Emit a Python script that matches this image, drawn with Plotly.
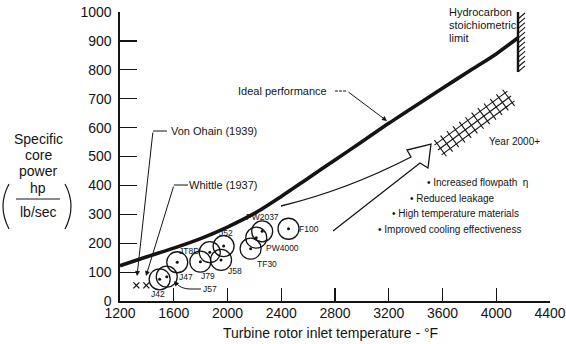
import plotly.graph_objects as go

# ---------------- data ----------------
ideal_temp = [1200, 1400, 1600, 1800, 2000, 2200, 2400, 2600, 2800, 3000, 3200, 3400, 3600, 3800, 4000, 4160]
ideal_power = [122, 153, 183, 216, 256, 303, 362, 425, 488, 551, 615, 676, 736, 796, 855, 910]

engine_names = ["J42", "J57", "J47", "J79", "JT8D", "J52", "J58", "TF30", "PW4000", "PW2037", "F100"]
engine_temp = [1495, 1548, 1626, 1798, 1868, 1971, 1952, 2172, 2214, 2258, 2454]
engine_power = [75, 84, 134, 136, 169, 190, 142, 181, 219, 241, 250]

pioneer_names = ["Von Ohain (1939)", "Whittle (1937)"]
pioneer_temp = [1322, 1396]
pioneer_power = [54, 54]

x_ticks = [1200, 1600, 2000, 2400, 2800, 3200, 3600, 4000, 4400]
y_ticks = [0, 100, 200, 300, 400, 500, 600, 700, 800, 900, 1000]

improvements = ["• Increased flowpath  η", "• Reduced leakage", "• High temperature materials",
                "• Improved cooling effectiveness"]

# ---------------- layout geometry helpers (decorations only) ----------------
W, H = 566, 344
ML, MR, MT, MB = 120, 16, 12, 43
PW, PH = W - ML - MR, H - MT - MB
X0, X1, Y0, Y1 = 1200, 4400, 0, 1000


def dx(px):
    return X0 + (px - ML) / PW * (X1 - X0)


def dy(py):
    return Y0 + (H - MB - py) / PH * (Y1 - Y0)


def paper_x(px):
    return (px - ML) / PW


def paper_y(py):
    return (H - MB - py) / PH


INK = "#141414"
FONT = "Liberation Sans, Arial, sans-serif"

fig = go.Figure()

# ideal performance curve
fig.add_trace(go.Scatter(x=ideal_temp, y=ideal_power, mode="lines",
                         line=dict(color=INK, width=3.6, shape="spline", smoothing=0.8),
                         hoverinfo="skip", showlegend=False))

# engine circles and centre dots
fig.add_trace(go.Scatter(x=engine_temp, y=engine_power, mode="markers",
                         marker=dict(symbol="circle-open", size=21, color=INK, line=dict(width=1.3, color=INK)),
                         text=engine_names, showlegend=False))
fig.add_trace(go.Scatter(x=engine_temp, y=engine_power, mode="markers",
                         marker=dict(symbol="circle", size=3, color=INK), showlegend=False, hoverinfo="skip"))

# pioneer x markers
fig.add_trace(go.Scatter(x=pioneer_temp, y=pioneer_power, mode="markers",
                         marker=dict(symbol="x-thin", size=6, line=dict(width=1.3, color=INK)),
                         text=pioneer_names, showlegend=False))

annotations = []
shapes = []

# engine labels (pixel offsets from circle centre)
label_offsets = {
    "J42": (-2, 15), "J47": (9, 15), "J79": (8, 14), "JT8D": (-21, -1), "J52": (2, -13),
    "J58": (14, 11), "TF30": (16, 15), "PW4000": (26, 10), "PW2037": (0, -14), "F100": (20, 0),
}
for name, t, p in zip(engine_names, engine_temp, engine_power):
    if name in label_offsets:
        ox, oy = label_offsets[name]
        annotations.append(dict(x=t, y=p, xref="x", yref="y", text=name, showarrow=False,
                                xshift=ox, yshift=-oy, font=dict(size=8.5, color=INK, family=FONT)))

# J57 label with curved leader
annotations.append(dict(x=dx(210), y=dy(289), xref="x", yref="y", text="J57", showarrow=False,
                        font=dict(size=8.5, color=INK, family=FONT)))
shapes.append(dict(type="path", xref="x", yref="y",
                   path=f"M {dx(201)} {dy(289)} L {dx(190)} {dy(289)} Q {dx(181)} {dy(289)} {dx(176)} {dy(283)}",
                   line=dict(color=INK, width=1)))
annotations.append(dict(x=dx(174), y=dy(281), ax=dx(177), ay=dy(284.5), xref="x", yref="y", axref="x", ayref="y",
                        text="", showarrow=True, arrowhead=2, arrowsize=1, arrowwidth=1, arrowcolor=INK, standoff=0))

# pioneer labels with leaders
pioneer_text_px = [(214, 131), (223, 185)]
pioneer_corner_px = [(153, 131), (174, 185)]
pioneer_tip_px = [(137, 276), (146, 276)]
for name, (tx, ty), (cx, cy), (ex, ey) in zip(pioneer_names, pioneer_text_px, pioneer_corner_px, pioneer_tip_px):
    annotations.append(dict(x=dx(tx), y=dy(ty), xref="x", yref="y", text=name, showarrow=False,
                            font=dict(size=11, color=INK, family=FONT)))
    shapes.append(dict(type="line", xref="x", yref="y", x0=dx(cx), y0=dy(cy), x1=dx(cx + 14), y1=dy(cy),
                       line=dict(color=INK, width=1)))
    annotations.append(dict(x=dx(ex), y=dy(ey), ax=dx(cx), ay=dy(cy), xref="x", yref="y", axref="x", ayref="y",
                            text="", showarrow=True, arrowhead=2, arrowsize=1, arrowwidth=1, arrowcolor=INK,
                            standoff=0))

# Ideal performance label
annotations.append(dict(x=dx(282), y=dy(91), xref="x", yref="y", text="Ideal performance", showarrow=False,
                        font=dict(size=11, color=INK, family=FONT)))
shapes.append(dict(type="line", xref="x", yref="y", x0=dx(335), y0=dy(91), x1=dx(347), y1=dy(91),
                   line=dict(color=INK, width=1, dash="3px,1px")))
annotations.append(dict(x=dx(387), y=dy(121), ax=dx(347), ay=dy(91), xref="x", yref="y", axref="x", ayref="y",
                        text="", showarrow=True, arrowhead=2, arrowsize=1, arrowwidth=1, arrowcolor=INK, standoff=0))

# hollow arrow toward year 2000+
arrow_path = (f"M {dx(281)} {dy(206)} Q {dx(347)} {dy(190)} {dx(411)} {dy(157)} "
              f"L {dx(407)} {dy(150)} L {dx(431)} {dy(144)} L {dx(428)} {dy(168)} "
              f"L {dx(420)} {dy(163)} L {dx(333)} {dy(231)}")
shapes.append(dict(type="path", xref="x", yref="y", path=arrow_path, line=dict(color=INK, width=1.3)))

# crosshatched "Year 2000+" band
ax_, ay_ = 438.0, 150.0
bx_, by_ = 511.0, 96.0
L = ((bx_ - ax_) ** 2 + (by_ - ay_) ** 2) ** 0.5
ux, uy = (bx_ - ax_) / L, (by_ - ay_) / L
nx, ny = -uy, ux
for off in (-6, 0, 6):
    shapes.append(dict(type="line", xref="x", yref="y",
                       x0=dx(ax_ + nx * off), y0=dy(ay_ + ny * off),
                       x1=dx(bx_ + nx * off), y1=dy(by_ + ny * off), line=dict(color=INK, width=1.1)))
n_cross = 12
for i in range(n_cross):
    t = 3 + i * (L - 6) / (n_cross - 1)
    cx, cy = ax_ + ux * t, ay_ + uy * t
    shapes.append(dict(type="line", xref="x", yref="y",
                       x0=dx(cx - nx * 10), y0=dy(cy - ny * 10),
                       x1=dx(cx + nx * 10), y1=dy(cy + ny * 10), line=dict(color=INK, width=1.1)))
annotations.append(dict(x=dx(514), y=dy(141), xref="x", yref="y", text="Year 2000+", showarrow=False,
                        font=dict(size=10, color=INK, family=FONT)))

# improvement bullets
bullet_px = [(425, 182), (408, 198), (390, 213), (376, 229)]
for txt, (bx, by) in zip(improvements, bullet_px):
    annotations.append(dict(x=dx(bx), y=dy(by), xref="x", yref="y", text=txt, showarrow=False,
                            xanchor="left", font=dict(size=10, color=INK, family=FONT)))

# hydrocarbon stoichiometric limit wall
wall_x = 518
shapes.append(dict(type="line", xref="x", yref="y", x0=dx(wall_x), y0=dy(12), x1=dx(wall_x), y1=dy(72),
                   line=dict(color=INK, width=2.4)))
for k in range(12):
    yy = 19 + k * 4.8
    shapes.append(dict(type="line", xref="x", yref="y", x0=dx(wall_x), y0=dy(yy), x1=dx(wall_x + 7),
                       y1=dy(yy - 6), line=dict(color=INK, width=1.1)))
for txt, yy in zip(["Hydrocarbon", "stoichiometric", "limit"], [12, 25, 38]):
    annotations.append(dict(x=paper_x(447), y=paper_y(yy), xref="paper", yref="paper", text=txt,
                            showarrow=False, xanchor="left", yanchor="middle",
                            font=dict(size=11, color=INK, family=FONT)))

# y-axis title with parenthesised fraction
for txt, yy in zip(["Specific", "core", "power", "hp", "lb/sec"], [139, 155, 171, 188, 212]):
    annotations.append(dict(x=paper_x(38), y=paper_y(yy), xref="paper", yref="paper", text=txt, showarrow=False,
                            xanchor="center", yanchor="middle",
                            font=dict(size=14, color=INK, family=FONT)))
shapes.append(dict(type="line", xref="paper", yref="paper", x0=paper_x(16), y0=paper_y(199), x1=paper_x(60),
                   y1=paper_y(199), line=dict(color=INK, width=1)))
shapes.append(dict(type="path", xref="paper", yref="paper",
                   path=f"M {paper_x(9)} {paper_y(184)} Q {paper_x(-3)} {paper_y(206)} {paper_x(9)} {paper_y(229)}",
                   line=dict(color=INK, width=1.2)))
shapes.append(dict(type="path", xref="paper", yref="paper",
                   path=f"M {paper_x(65)} {paper_y(184)} Q {paper_x(77)} {paper_y(206)} {paper_x(65)} {paper_y(229)}",
                   line=dict(color=INK, width=1.2)))

# x-axis title
annotations.append(dict(x=paper_x(330), y=paper_y(333), xref="paper", yref="paper",
                        text="Turbine rotor inlet temperature - °F", showarrow=False,
                        xanchor="center", yanchor="middle",
                        font=dict(size=14, color=INK, family=FONT)))

fig.update_layout(
    width=W, height=H,
    margin=dict(l=ML, r=MR, t=MT, b=MB, autoexpand=False),
    paper_bgcolor="white", plot_bgcolor="white",
    font=dict(family=FONT, color=INK, size=14),
    showlegend=False,
    annotations=annotations,
    shapes=shapes,
    xaxis=dict(range=[X0, X1], tickvals=x_ticks, ticktext=[str(v) for v in x_ticks],
               ticks="inside", ticklen=13, tickwidth=1.2, tickcolor=INK,
               showline=True, linecolor=INK, linewidth=1.6, showgrid=False, zeroline=False,
               tickfont=dict(size=14, color=INK), ticklabelstandoff=-1, automargin=False),
    yaxis=dict(range=[Y0, Y1], tickvals=y_ticks, ticktext=[str(v) for v in y_ticks],
               ticks="inside", ticklen=17, tickwidth=1.2, tickcolor=INK,
               showline=True, linecolor=INK, linewidth=1.6, showgrid=False, zeroline=False,
               tickfont=dict(size=14, color=INK), ticklabelstandoff=4, automargin=False),
)

fig.write_html("out.html",
               config={"displayModeBar": False, "staticPlot": True},
               post_script="document.body.style.margin='0';document.body.style.padding='0';"
                           "document.documentElement.style.overflow='hidden';")
